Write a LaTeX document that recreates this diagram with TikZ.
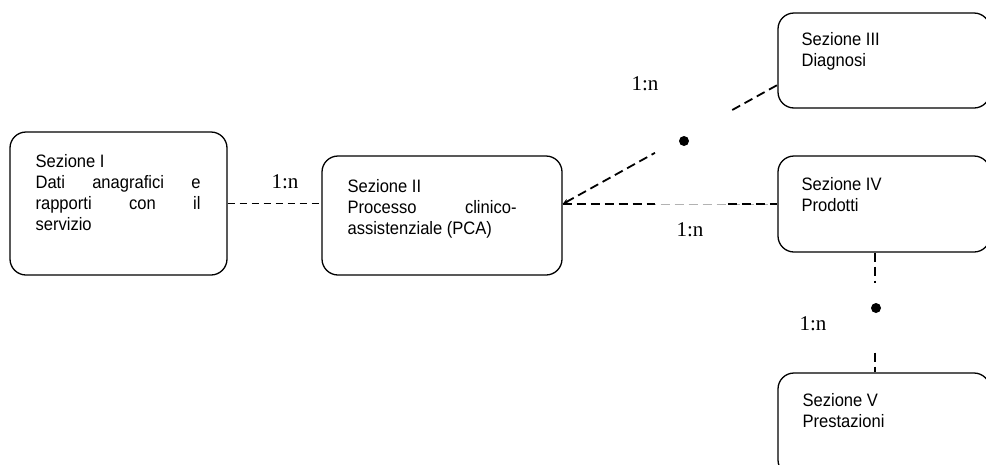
\documentclass[tikz,border=0pt]{standalone}
\usepackage{fontspec}
\newfontfamily\boxfont{Liberation Sans}[FakeStretch=0.92]
\newfontfamily\relfont{Liberation Serif}
\usetikzlibrary{calc,arrows.meta}
% stacked lines of a section box; the first baseline is the box baseline
\newcommand{\seclines}[1]{\vtop{\boxfont\fontsize{18}{21}\selectfont\baselineskip=21pt #1}}
\tikzset{
  section/.style={draw, line width=1.3pt, rounded corners=16pt, inner sep=0pt},
  sectext/.style={anchor=base west, inner sep=0pt},
  rel/.style={font=\relfont\fontsize{21}{24}\selectfont, inner sep=0pt},
  link/.style={dash pattern=on 9pt off 5pt, line width=1.8pt},
  greylink/.style={dash pattern=on 9pt off 5pt, line width=0.8pt, draw=black!30},
  thinlink/.style={dash pattern=on 7pt off 5pt, line width=0.9pt},
  vlink/.style={dash pattern=on 9pt off 5pt, line width=1.5pt},
  joint/.style={circle, fill, inner sep=0pt, minimum size=10pt},
}
\begin{document}
\begin{tikzpicture}[x=1pt,y=-1pt]
\clip (0,0) rectangle (986,464);
\fill[white] (0,0) rectangle (986,464);

% section boxes
\node[section, minimum width=217pt, minimum height=143pt] (b1) at (118.5,203.5) {};
\node[section, minimum width=240pt, minimum height=119pt] (b2) at (442,215.5) {};
\node[section, minimum width=212pt, minimum height=95pt]  (b3) at (884,60.5) {};
\node[section, minimum width=212pt, minimum height=96pt]  (b4) at (884,204) {};
\node[section, minimum width=212pt, minimum height=103pt] (b5) at (884,424.5) {};

% section texts
\node[sectext] (t1) at ($(b1.north west)+(26,36)$) {\seclines{%
  \hbox{Sezione I}
  \hbox to 165pt{Dati\hfill anagrafici\hfill e}
  \hbox to 165pt{rapporti\hfill con\hfill il}
  \hbox{servizio}}};
\node[sectext] (t2) at ($(b2.north west)+(26,37)$) {\seclines{%
  \hbox{Sezione II}
  \hbox to 169pt{Processo\hfill clinico-}
  \hbox{assistenziale (PCA)}}};
\node[sectext] (t3) at ($(b3.north west)+(24,33)$) {\seclines{%
  \hbox{Sezione III}
  \hbox{Diagnosi}}};
\node[sectext] (t4) at ($(b4.north west)+(24,35)$) {\seclines{%
  \hbox{Sezione IV}
  \hbox{Prodotti}}};
\node[sectext] (t5) at ($(b5.north west)+(25,34)$) {\seclines{%
  \hbox{Sezione V}
  \hbox{Prestazioni}}};

% I -- II
\draw[thinlink] (b1.east) -- (b1.east -| b2.west);

% II -- IV
\coordinate (s2) at (b2.east |- b4.west);
\draw[greylink] (s2) -- (b4.west);
\draw[link] (s2) -- ($(s2)!0.43!(b4.west)$);
\draw[link] ($(s2)!0.77!(b4.west)$) -- (b4.west);

% II -- III through the joint
\coordinate (e3) at ([yshift=-24.5pt]b3.west);
\node[joint] (j1) at (684,141) {};
\draw[link, {Stealth[length=6pt,width=5pt]}-] (s2) -- ($(s2)!0.43!(e3)$);
\draw[link] ($(s2)!0.79!(e3)$) -- (e3);

% IV -- V through the joint
\coordinate (v4) at ([xshift=-9pt]b4.south);
\coordinate (v5) at (v4 |- b5.north);
\node[joint] (j2) at (876,308) {};
\draw[vlink] (v4) -- ($(v4)!0.256!(v5)$);
\draw[vlink] ($(v4)!0.835!(v5)$) -- (v5);

% cardinalities
\node[rel] (r12) at (285,182) {1:n};
\node[rel] (r24) at (690,230) {1:n};
\node[rel] (r23) at (645,84) {1:n};
\node[rel] (r45) at (813,324) {1:n};
\end{tikzpicture}
\end{document}
